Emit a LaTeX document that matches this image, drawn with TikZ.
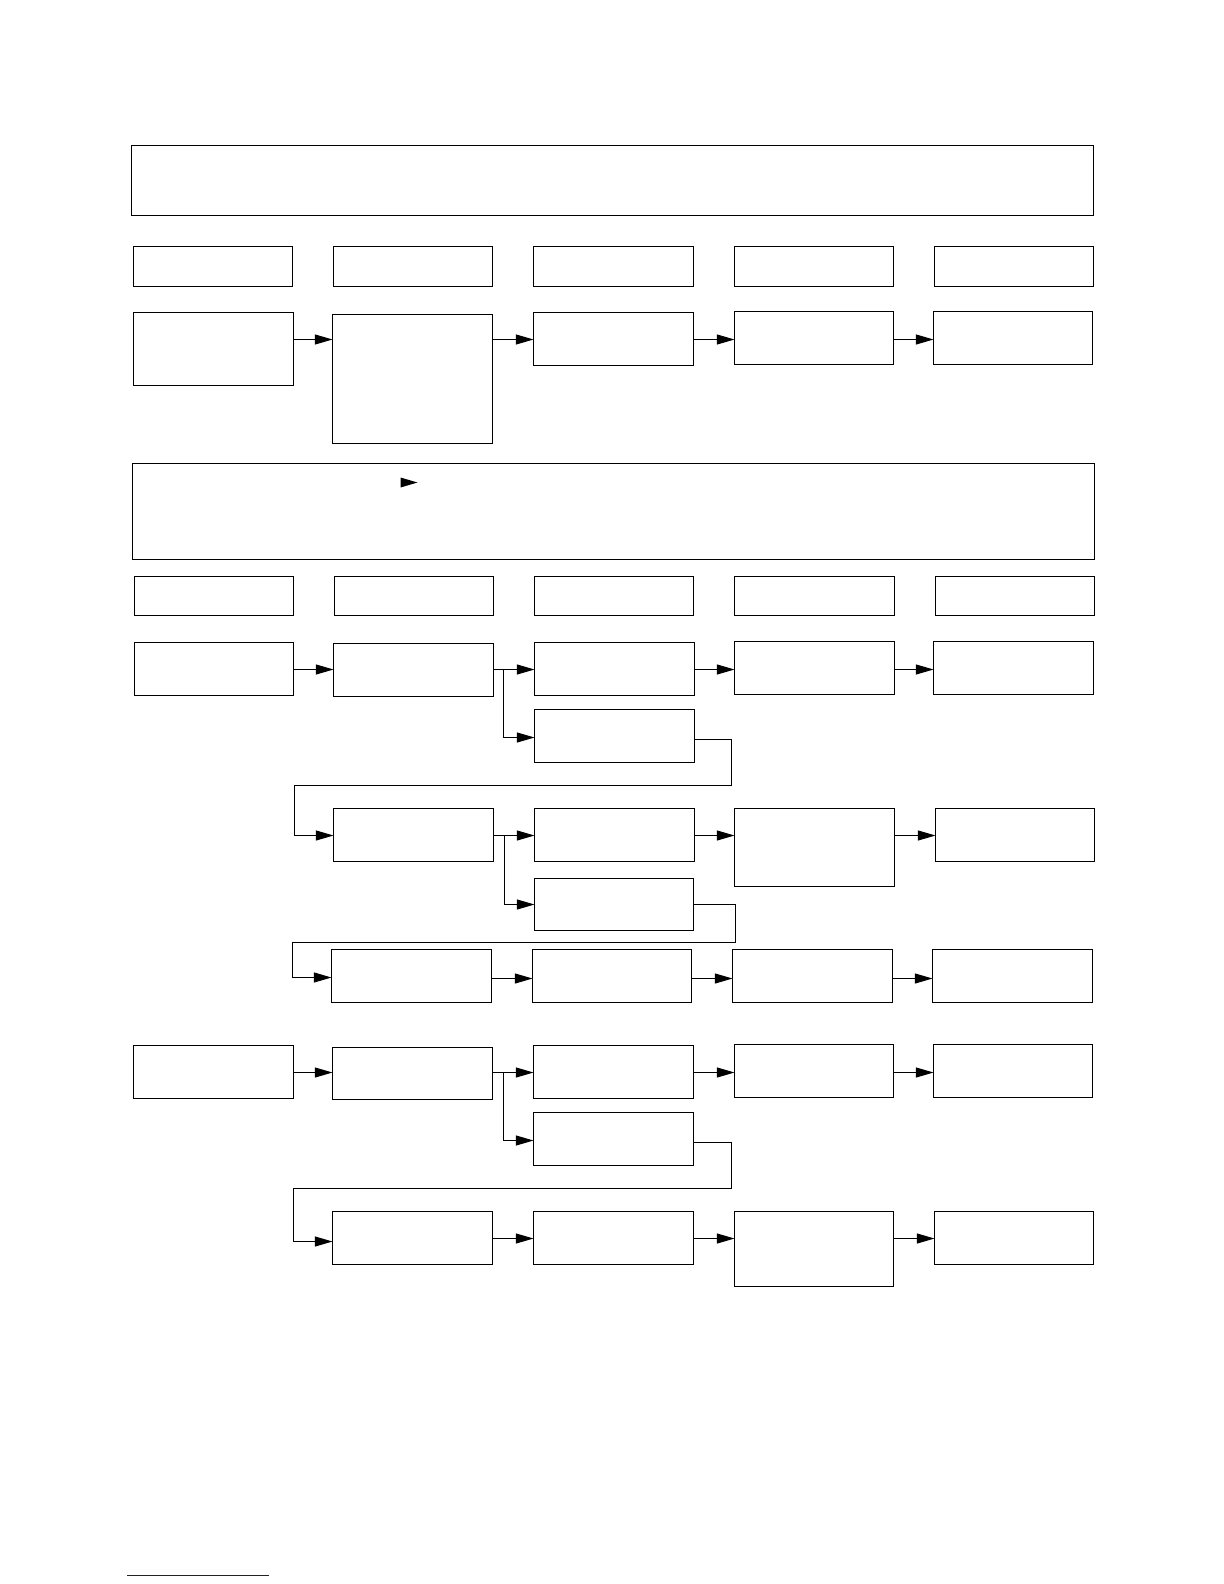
\documentclass[tikz,border=0pt]{standalone}
\usetikzlibrary{arrows.meta}
\definecolor{linkblue}{RGB}{24,24,120}
\tikzset{
  box/.style={draw=black, line width=0.55pt, inner sep=0pt, outer sep=0pt, anchor=north west},
  arr/.style={draw=black, line width=0.5pt, -{Triangle[length=8.8pt,width=5pt]}},
  wire/.style={draw=black, line width=0.5pt}
}
% \bx{name}{x1}{y1}{x2}{y2}  (pixel coordinates, y downwards)
\newcommand{\bx}[5]{\node[box, minimum width={(#4-#2)*0.5pt}, minimum height={(#5-#3)*0.5pt}] (#1) at (#2,#3) {};}
\begin{document}
\begin{tikzpicture}[x=0.5pt, y=-0.5pt]
\useasboundingbox (0,0) rectangle (1224,1584);
% bands
\bx{bandA}{131.5}{145.5}{1093.5}{215.5}
\bx{bandB}{132.5}{463.5}{1094.5}{559.5}
\fill[black] (417.5,482.5) -- (400.5,477.5) -- (400.5,487.5) -- cycle;
% header row A
\bx{ha1}{133.5}{246.5}{292.5}{286.5}
\bx{ha2}{333.5}{246.5}{492.5}{286.5}
\bx{ha3}{533.5}{246.5}{693.5}{286.5}
\bx{ha4}{734.5}{246.5}{893.5}{286.5}
\bx{ha5}{934.5}{246.5}{1093.5}{286.5}
% row A
\bx{a1}{133.5}{312.5}{293.5}{385.5}
\bx{a2}{332.5}{314.5}{492.5}{443.5}
\bx{a3}{533.5}{312.5}{693.5}{365.5}
\bx{a4}{734.5}{311.5}{893.5}{364.5}
\bx{a5}{933.5}{311.5}{1092.5}{364.5}
\draw[arr] (a1.east |- 0,339.5) -- (a2.west |- 0,339.5);
\draw[arr] (a2.east |- 0,339.5) -- (a3.west |- 0,339.5);
\draw[arr] (a3.east |- 0,339.5) -- (a4.west |- 0,339.5);
\draw[arr] (a4.east |- 0,339.5) -- (a5.west |- 0,339.5);
% header row B
\bx{hb1}{134.5}{576.5}{293.5}{615.5}
\bx{hb2}{334.5}{576.5}{493.5}{615.5}
\bx{hb3}{534.5}{576.5}{693.5}{615.5}
\bx{hb4}{734.5}{576.5}{894.5}{615.5}
\bx{hb5}{935.5}{576.5}{1094.5}{615.5}
% row B1
\bx{b1}{134.5}{642.5}{293.5}{695.5}
\bx{b2}{333.5}{643.5}{493.5}{696.5}
\bx{b3}{534.5}{642.5}{694.5}{695.5}
\bx{b4}{734.5}{641.5}{894.5}{694.5}
\bx{b5}{933.5}{641.5}{1093.5}{694.5}
\bx{b3x}{534.5}{709.5}{694.5}{762.5}
\draw[arr] (b1.east |- 0,669.5) -- (b2.west |- 0,669.5);
\draw[arr] (b2.east |- 0,669.5) -- (b3.west |- 0,669.5);
\draw[arr] (b3.east |- 0,669.5) -- (b4.west |- 0,669.5);
\draw[arr] (b4.east |- 0,669.5) -- (b5.west |- 0,669.5);
\coordinate (jb) at (503.5,669.5);
\draw[arr] (jb) |- (b3x.west |- 0,737.5);
% row B2
\bx{c2}{333.5}{808.5}{493.5}{861.5}
\bx{c3}{534.5}{808.5}{694.5}{861.5}
\bx{c4}{734.5}{808.5}{894.5}{886.5}
\bx{c5}{935.5}{808.5}{1094.5}{861.5}
\bx{c3x}{534.5}{878.5}{693.5}{930.5}
\draw[arr] (b3x.east |- 0,739.5) -| (731.5,785.5) -| (294.5,835.5) -- (c2.west |- 0,835.5);
\draw[arr] (c2.east |- 0,835.5) -- (c3.west |- 0,835.5);
\draw[arr] (c3.east |- 0,835.5) -- (c4.west |- 0,835.5);
\draw[arr] (c4.east |- 0,835.5) -- (c5.west |- 0,835.5);
\coordinate (jc) at (504.5,835.5);
\draw[arr] (jc) |- (c3x.west |- 0,904.5);
% row B3
\bx{d2}{331.5}{949.5}{491.5}{1002.5}
\bx{d3}{532.5}{949.5}{691.5}{1002.5}
\bx{d4}{732.5}{949.5}{892.5}{1002.5}
\bx{d5}{932.5}{949.5}{1092.5}{1002.5}
\draw[arr] (c3x.east |- 0,904.5) -| (735.5,942.5) -| (292.5,977.5) -- (d2.west |- 0,977.5);
\draw[arr] (d2.east |- 0,978.5) -- (d3.west |- 0,978.5);
\draw[arr] (d3.east |- 0,978.5) -- (d4.west |- 0,978.5);
\draw[arr] (d4.east |- 0,978.5) -- (d5.west |- 0,978.5);
% row C1
\bx{e1}{133.5}{1045.5}{293.5}{1098.5}
\bx{e2}{332.5}{1047.5}{492.5}{1099.5}
\bx{e3}{533.5}{1045.5}{693.5}{1098.5}
\bx{e4}{734.5}{1044.5}{893.5}{1097.5}
\bx{e5}{933.5}{1044.5}{1092.5}{1097.5}
\bx{e3x}{533.5}{1112.5}{693.5}{1165.5}
\draw[arr] (e1.east |- 0,1072.5) -- (e2.west |- 0,1072.5);
\draw[arr] (e2.east |- 0,1072.5) -- (e3.west |- 0,1072.5);
\draw[arr] (e3.east |- 0,1072.5) -- (e4.west |- 0,1072.5);
\draw[arr] (e4.east |- 0,1072.5) -- (e5.west |- 0,1072.5);
\coordinate (je) at (503.5,1072.5);
\draw[arr] (je) |- (e3x.west |- 0,1140.5);
% row C2
\bx{f2}{332.5}{1211.5}{492.5}{1264.5}
\bx{f3}{533.5}{1211.5}{693.5}{1264.5}
\bx{f4}{734.5}{1211.5}{893.5}{1286.5}
\bx{f5}{934.5}{1211.5}{1093.5}{1264.5}
\draw[arr] (e3x.east |- 0,1142.5) -| (731.5,1188.5) -| (293.5,1241.5) -- (f2.west |- 0,1241.5);
\draw[arr] (f2.east |- 0,1238.5) -- (f3.west |- 0,1238.5);
\draw[arr] (f3.east |- 0,1238.5) -- (f4.west |- 0,1238.5);
\draw[arr] (f4.east |- 0,1238.5) -- (f5.west |- 0,1238.5);
% link underline
\draw[linkblue, line width=0.6pt] (127,1575.5) -- (269,1575.5);
\end{tikzpicture}
\end{document}
